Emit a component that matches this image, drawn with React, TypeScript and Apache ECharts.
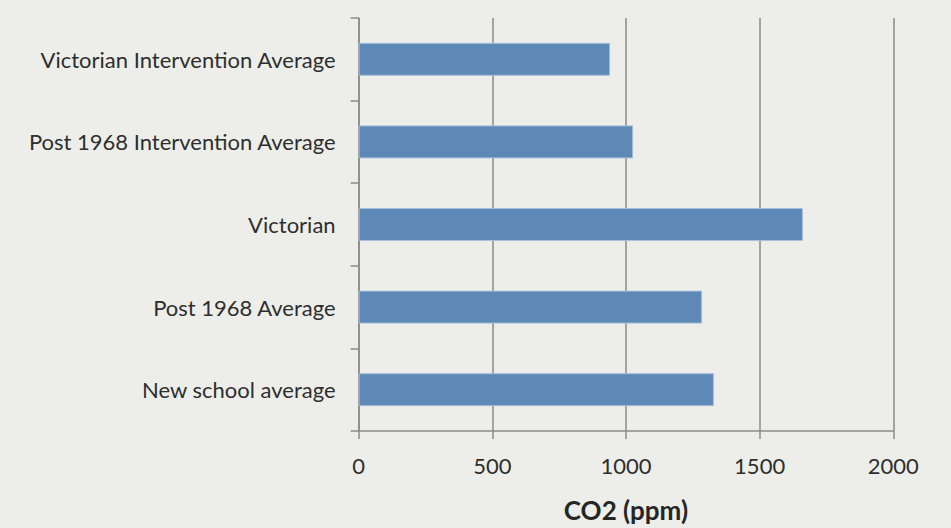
import React, { useEffect, useRef } from "react";
import * as echarts from "echarts";

// Category order as listed top to bottom
const categories: string[] = [
  "Victorian Intervention Average",
  "Post 1968 Intervention Average",
  "Victorian",
  "Post 1968 Average",
  "New school average",
];

// Mean CO2 concentration (ppm) per group
const co2Values: number[] = [941, 1027, 1662, 1285, 1329];

const axisMin = 0;
const axisMax = 2000;
const axisStep = 500;

const FONT = "Lato, 'Open Sans', sans-serif";

export default function App() {
  const ref = useRef<HTMLDivElement>(null);

  useEffect(() => {
    if (!ref.current) return;
    document.body.style.margin = "0";
    const chart = echarts.init(ref.current, undefined, { renderer: "svg" });
    chart.setOption({
      animation: false,
      backgroundColor: "#edeeea",
      grid: { left: 358.6, right: 951 - 893.3, top: 18, bottom: 528 - 432, containLabel: false },
      xAxis: {
        type: "value",
        min: axisMin,
        max: axisMax,
        interval: axisStep,
        name: "CO2 (ppm)",
        nameLocation: "middle",
        nameGap: 66,
        nameTextStyle: { fontFamily: FONT, fontSize: 26, fontWeight: "bold", color: "#262626" },
        axisLine: { show: true, lineStyle: { color: "#8a8a87", width: 1.5 } },
        axisTick: { show: true, length: 8, lineStyle: { color: "#8a8a87", width: 1.5 } },
        axisLabel: {
          margin: 23,
          fontFamily: FONT,
          fontSize: 22,
          color: "#2e2e2e",
          formatter: (v: number) => String(v),
        },
        splitLine: { show: true, lineStyle: { color: "#8a8a87", width: 1.5 } },
      },
      yAxis: {
        type: "category",
        data: categories,
        inverse: true,
        boundaryGap: true,
        axisLine: { show: true, lineStyle: { color: "#8a8a87", width: 1.5 } },
        axisTick: { show: true, length: 8, inside: false, lineStyle: { color: "#8a8a87", width: 1.5 } },
        axisLabel: { margin: 23, fontFamily: FONT, fontSize: 22, color: "#2e2e2e" },
        splitLine: { show: false },
      },
      series: [
        {
          type: "bar",
          data: co2Values,
          barWidth: 33,
          itemStyle: { color: "#5e88b6", borderColor: "#a8c0dc", borderWidth: 1 },
        },
      ],
    });
    return () => chart.dispose();
  }, []);

  return <div ref={ref} style={{ width: 951, height: 528 }} />;
}
